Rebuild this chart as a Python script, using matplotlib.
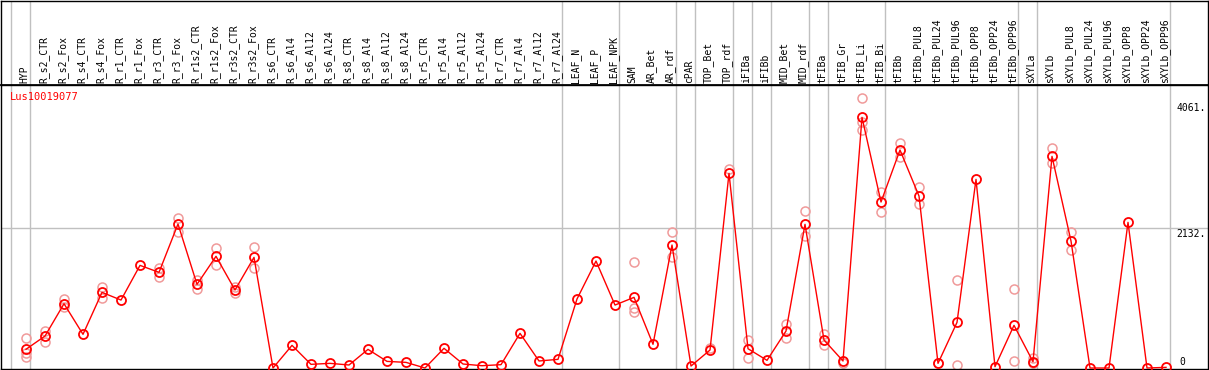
import matplotlib
matplotlib.use('Agg')
import matplotlib.pyplot as plt

# categories (x axis, top labels)
samples = ['HYP', 'R_s2_CTR', 'R_s2_Fox', 'R_s4_CTR', 'R_s4_Fox', 'R_r1_CTR', 'R_r1_Fox',
           'R_r3_CTR', 'R_r3_Fox', 'R_r1s2_CTR', 'R_r1s2_Fox', 'R_r3s2_CTR', 'R_r3s2_Fox',
           'R_s6_CTR', 'R_s6_Al4', 'R_s6_Al12', 'R_s6_Al24', 'R_s8_CTR', 'R_s8_Al4',
           'R_s8_Al12', 'R_s8_Al24', 'R_r5_CTR', 'R_r5_Al4', 'R_r5_Al12', 'R_r5_Al24',
           'R_r7_CTR', 'R_r7_Al4', 'R_r7_Al12', 'R_r7_Al24', 'LEAF_N', 'LEAF_P', 'LEAF_NPK',
           'SAM', 'AR_Bet', 'AR_rdf', 'cPAR', 'TOP_Bet', 'TOP_rdf', 'iFIBa', 'iFIBb',
           'MID_Bet', 'MID_rdf', 'tFIBa', 'tFIB_Gr', 'tFIB_Li', 'tFIB_Bi', 'tFIBb',
           'tFIBb_PUL8', 'tFIBb_PUL24', 'tFIBb_PUL96', 'tFIBb_OPP8', 'tFIBb_OPP24',
           'tFIBb_OPP96', 'sXYLa', 'sXYLb', 'sXYLb_PUL8', 'sXYLb_PUL24', 'sXYLb_PUL96',
           'sXYLb_OPP8', 'sXYLb_OPP24', 'sXYLb_OPP96']

# mean expression
mean_vals = [285, 487, 979, 513, 1152, 1035, 1563, 1457, 2193, 1274, 1701, 1188, 1685,
             0, 345, 56, 71, 46, 284, 101, 86, 0, 300, 61, 35, 51, 528, 107, 132,
             1051, 1629, 959, 1076, 361, 1873, 30, 274, 2965, 294, 117, 563, 2188,
             426, 107, 3817, 2528, 3320, 2619, 71, 695, 2873, 20, 650, 96, 3223, 1934,
             0, 0, 2218, 0, 10]

# replicate values (only where visible)
rep_vals = [[452, 224, 163], [568, 400], [1055, 933], [], [1229, 1066], [], [],
            [1527, 1390], [2280, 2075], [1340, 1198], [1823, 1568], [1229, 1147], [1843, 1527],
            [], [], [], [], [], [], [], [], [], [], [], [], [], [], [], [],
            [], [], [], [1619, 918, 857], [], [2066, 1695], [], [309], [3026],
            [426, 157], [], [675, 452], [2391, 2015], [513, 350], [72],
            [4107, 3741, 3620], [2675, 2371], [3431, 3208], [2751, 2492], [71],
            [1335, 41], [], [], [1198, 107], [157, 72], [3345, 3117], [2066, 1797],
            [], [], [], [], []]

# last sample of each group, gray separators drawn just after them
group_ends = [-1, 0, 28, 31, 34, 35, 37, 38, 39, 41, 42, 45, 52, 53, 60]
yticks = [0, 2132, 4061]

W, H = 1209, 370
fig = plt.figure(figsize=(W / 100, H / 100), dpi=100)
left, right = 1 / W, 1208 / W
ax = fig.add_axes([left, 1 - 369 / H, right - left, (369 - 85) / H])
axl = fig.add_axes([left, 1 - 85 / H, right - left, 84.5 / H])

x = list(range(len(samples)))
xlim = (-1.316, -1.316 + 1207 / 19)
font = 'DejaVu Sans Mono'

for a in (ax, axl):
    a.set_xlim(*xlim)
    a.set_xticks([])
    a.set_yticks([])
    for s in a.spines.values():
        s.set_color('black')
        s.set_linewidth(1)
    for g in group_ends:
        pos = g + 0.2 if g >= 0 else -0.8
        a.axvline(pos, color='#c0c0c0', lw=1, zorder=0)
axl.spines['bottom'].set_linewidth(1.3)

ax.set_ylim(-15, 4310)
ax.axhline(2132, color='#c0c0c0', lw=1, zorder=0)

# replicates
for i, reps in enumerate(rep_vals):
    if reps:
        ax.plot([i] * len(reps), reps, 'o', ms=6.5, mfc='none', mec='#f09a9a',
                mew=1.1, zorder=2)

ax.plot(x, mean_vals, '-', color='red', lw=1, zorder=3)
ax.plot(x, mean_vals, 'o', ms=6.5, mfc='none', mec='red', mew=1.3, zorder=4)

# labels on top
axl.set_ylim(0, 84.5)
for i, s in enumerate(samples):
    axl.text(i - 0.08, 2, s, rotation=90, ha='center', va='bottom',
             fontsize=7, family=font)

# right-side value labels
for v in yticks:
    if v == 0:
        ax.text(60.7, 90, '0', ha='left', va='center', fontsize=7, family=font)
    else:
        ax.text(xlim[1] - 0.1, v - 20, '%d.' % v, ha='right', va='top', fontsize=7, family=font)

fig.text(10 / W, 1 - 97 / H, 'Lus10019077', color='red', fontsize=7.5, family=font,
         ha='left', va='center')

fig.savefig('out.png', dpi=100)
